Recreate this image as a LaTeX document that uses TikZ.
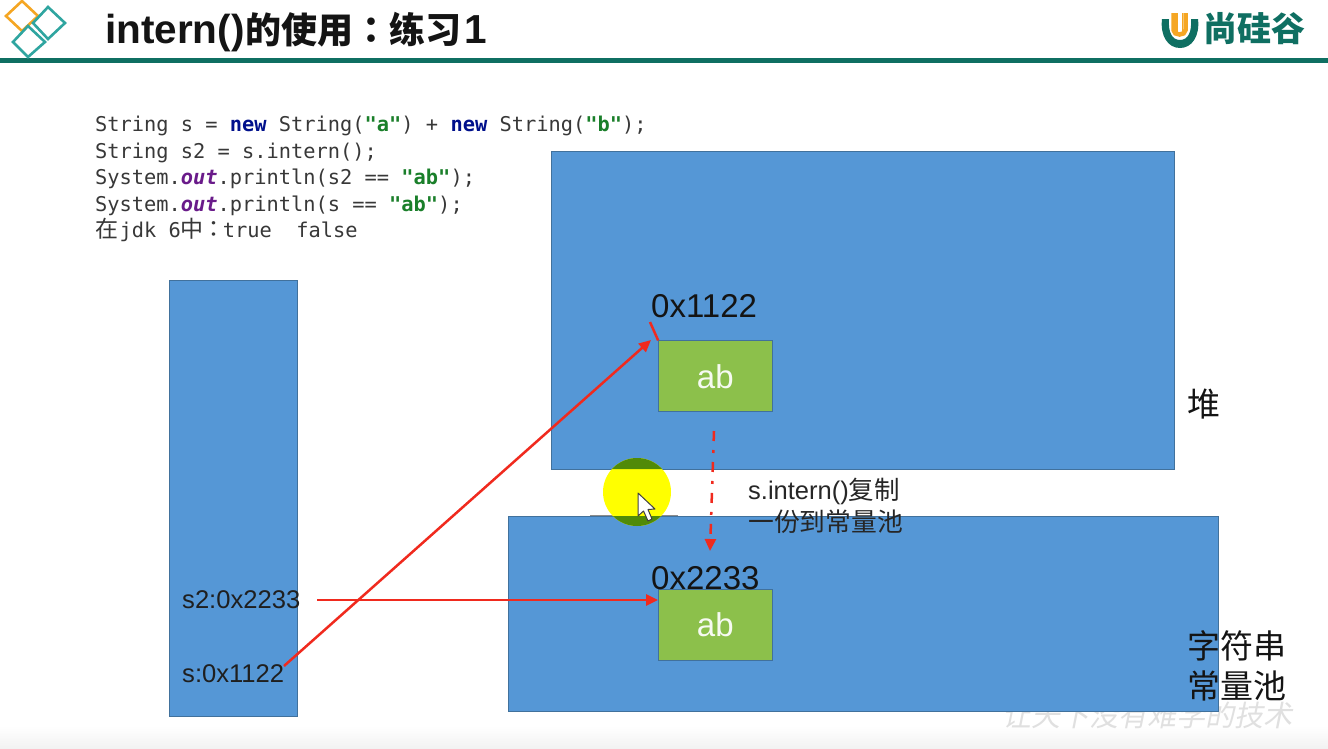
\documentclass[tikz,border=0pt]{standalone}
\usepackage{fontspec}
\usetikzlibrary{arrows.meta}
\setmainfont{Liberation Sans}
\newfontfamily\cjk{Noto Sans CJK SC}
\newfontfamily\cjktc{Noto Sans CJK TC}
\newfontfamily\codefont{DejaVu Sans Mono}
\newcommand{\myfs}[1]{\fontsize{#1}{#1}\selectfont}
\definecolor{boxblue}{HTML}{5597D6}
\definecolor{boxedge}{HTML}{41719C}
\definecolor{boxgreen}{HTML}{8CC04B}
\definecolor{teal1}{HTML}{0F6F62}
\definecolor{teal2}{HTML}{2FA5A0}
\definecolor{orange1}{HTML}{F5A623}
\definecolor{kwnavy}{HTML}{00108C}
\definecolor{kwpurple}{HTML}{6A1B8A}
\definecolor{kwgreen}{HTML}{1A7F2A}
\definecolor{arrowred}{HTML}{F02A1E}
\definecolor{hlyellow}{HTML}{FFFF00}
\definecolor{hlgreen}{HTML}{508A08}
\newcommand{\kw}[1]{\textcolor{kwnavy}{\bfseries #1}}
\newcommand{\fld}[1]{\textcolor{kwpurple}{\bfseries\itshape #1}}
\newcommand{\str}[1]{\textcolor{kwgreen}{\bfseries #1}}
\tikzset{
  bigbox/.style={draw=boxedge,line width=0.8pt,fill=boxblue,inner sep=0pt,rectangle},
  smallbox/.style={draw=boxedge,line width=0.8pt,fill=boxgreen,inner sep=0pt,rectangle,text=white!92!boxgreen,font=\myfs{33}},
  addr/.style={inner sep=0pt,anchor=west,text=black!92,font=\myfs{33}},
  slot/.style={inner sep=0pt,anchor=west,text=black!88,font=\myfs{25.6}},
  codeline/.style={inner sep=0pt,anchor=base west,text=black!78,font=\codefont\myfs{20.35}},
  cjklabel/.style={inner sep=0pt,anchor=west,text=black!92,font=\cjk\myfs{33}},
  note/.style={inner sep=0pt,anchor=west,text=black!85,font=\myfs{25.5}},
  redline/.style={draw=arrowred,line width=2.5pt},
  redarrow/.style={redline,-{Triangle[length=12pt,width=11pt]}},
  diamondline/.style={line width=2.6pt,line join=miter}
}
\begin{document}
\begin{tikzpicture}[x=1pt,y=-1pt]
\useasboundingbox (0,0) rectangle (1328,748);
\fill[white] (0,0) rectangle (1328,748);
\shade[top color=white,bottom color=black!5] (0,726) rectangle (1328,748);
% header
\fill[teal1] (0,58) rectangle (1328,62.5);
\draw[diamondline,orange1] (22,1) -- (38,16) -- (22,31) -- (6,16) -- cycle;
\draw[diamondline,teal2] (48,7) -- (65,23) -- (48,39) -- (33,23) -- cycle;
\draw[diamondline,teal2] (28,26) -- (45,42) -- (28,57) -- (13,42) -- cycle;
\node[inner sep=0pt,anchor=base west,text=black!92,font=\bfseries\myfs{40.5}] (title) at (105,43.5)
  {intern(){\cjk\myfs{36}\kern1pt 的使用}{\cjktc\myfs{36}：}{\cjk\myfs{36}练习}\kern3pt 1};
% logo
\fill[teal1] (1162,19) .. controls (1160,36) and (1168,48) .. (1180,48) .. controls (1192,48) and (1200,36) .. (1198,19) -- (1191,19) .. controls (1192,32) and (1188,40) .. (1180,40) .. controls (1172,40) and (1168,32) .. (1169,19) -- cycle;
\draw[orange1,line width=4.5pt] (1173.5,13) -- (1173.5,30) .. controls (1173.5,36) and (1185.5,36) .. (1185.5,30) -- (1185.5,13);
\fill[orange1] (1176,13) rectangle (1177.5,32);
\fill[orange1] (1181.5,13) rectangle (1183,32);
\node[inner sep=0pt,anchor=west,text=teal1,font=\cjk\bfseries\myfs{34}] (logotext) at (1203,29) {尚硅谷};
% watermark
\node[inner sep=0pt,anchor=west,text=black!12,font=\cjk\myfs{29},xslant=0.2] (watermark) at (1005,715) {让天下没有难学的技术};
% boxes
\node[bigbox,minimum width=622.5pt,minimum height=317.5pt] (heap) at (862.8,310.3) {};
\node[bigbox,minimum width=710pt,minimum height=195pt] (pool) at (863,613.6) {};
\node[bigbox,minimum width=128pt,minimum height=436pt] (stack) at (233.7,498.5) {};
\node[smallbox,minimum width=113.5pt,minimum height=71pt] (abheap) at (715.3,376.3) {ab};
\node[smallbox,minimum width=113.5pt,minimum height=70.5pt] (abpool) at (715.3,625) {ab};
% cursor highlight
\draw[black!45,line width=0.8pt] (590,515.5) -- (678,515.5);
\fill[hlyellow] (637,492) circle[radius=34];
\begin{scope}
  \clip (552,152) rectangle (1174,469) (508,516) rectangle (1218,711);
  \fill[hlgreen] (637,492) circle[radius=34];
\end{scope}
\fill[white,draw=black!75,line width=1pt,line join=round] (638,493) -- (638,516) -- (643.5,511) -- (648,521) -- (652,519) -- (648,509.5) -- (655,509) -- cycle;
% code
\node[codeline] (c1) at (95,131) {String s = \kw{new} String(\str{"a"}) + \kw{new} String(\str{"b"});};
\node[codeline] (c2) at (95,158) {String s2 = s.intern();};
\node[codeline] (c3) at (95,184) {System.\fld{out}.println(s2 == \str{"ab"});};
\node[codeline] (c4) at (95,211) {System.\fld{out}.println(s == \str{"ab"});};
\node[codeline] (c5) at (95,237) {\makebox[24.5pt][l]{\cjk\myfs{23}在}jdk 6\makebox[24.5pt][l]{\cjk\myfs{23}中}\makebox[17.5pt][c]{\cjktc\myfs{23}：}true  \ false};
% labels
\node[addr] (addrheap) at (651,306) {0x1122};
\node[addr] (addrpool) at (651,578) {0x2233};
\node[slot] (s2slot) at (182,600) {s2:0x2233};
\node[slot] (sslot) at (182,674) {s:0x1122};
\node[cjklabel] (heaplabel) at (1187,404) {堆};
\node[cjklabel] (poollabel1) at (1187,646) {字符串};
\node[cjklabel] (poollabel2) at (1187,686) {常量池};
\node[note] (note1) at (748,491) {s.intern(){\cjk 复制}};
\node[note,font=\cjk\myfs{25.8}] (note2) at (748,522) {一份到常量池};
% connectors
\coordinate (tipa) at (651,340);
\coordinate (tailb) at (317,600);
\coordinate (taila) at (284,666);
\coordinate (dashstart) at (714,431);
\coordinate (dashend) at (710,551);
\coordinate (ticka) at (650,322);
\draw[redarrow] (taila) -- (tipa);
\draw[redarrow] (tailb) -- (tailb -| abpool.west);
\draw[redarrow,dash pattern=on 10pt off 9pt on 3pt off 9pt] (dashstart) -- (dashend);
\draw[redline] (ticka) -- (abheap.north west);
\end{tikzpicture}
\end{document}
